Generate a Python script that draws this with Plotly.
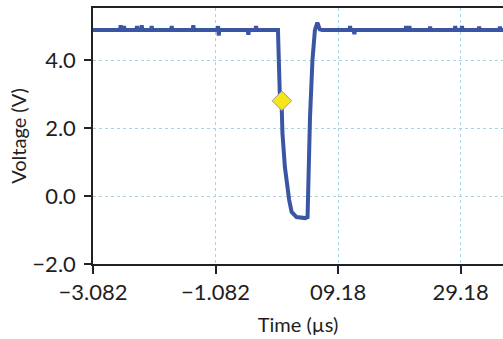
import plotly.graph_objects as go

# Trace samples (time in µs, voltage in V)
time_us = [
    -30.82, -26.4, -26.3, -26.2, -25.86, -25.76, -25.66, -23.74, -23.64, -23.54,
    -22.97, -22.87, -22.77, -21.34, -21.24, -21.14, -18.07, -17.97, -17.87,
    -14.55, -14.45, -14.35, -10.5, -10.4, -10.3, -10.2, -5.56, -5.46, -5.36,
    -4.31, -4.21, -4.11, -0.63, -0.45, -0.33, -0.05, 0.1, 0.5, 0.9, 1.2, 1.6,
    2.4, 3.8, 4.2, 4.4, 4.6, 5.0, 5.4, 5.8, 6.2, 6.6, 11.04, 11.14, 11.24,
    11.74, 11.84, 11.94, 20.18, 20.28, 20.38, 20.72, 20.82, 20.92, 24.1, 24.2,
    24.3, 28.2, 28.3, 28.4, 29.3, 29.4, 29.5, 32.1, 32.2, 32.3, 35.5, 35.6,
    35.7, 38.0,
]
voltage_v = [
    4.88, 4.88, 5.02, 4.88, 4.88, 5.0, 4.88, 4.88, 5.0, 4.88,
    4.88, 5.02, 4.88, 4.88, 5.0, 4.88, 4.88, 5.0, 4.88,
    4.88, 5.02, 4.88, 4.88, 5.0, 4.72, 4.88, 4.88, 4.74, 4.88,
    4.88, 5.0, 4.88, 4.88, 4.0, 3.0, 2.8, 1.85, 0.85, 0.26, -0.12, -0.47,
    -0.62, -0.65, -0.62, 0.85, 2.32, 4.0, 4.88, 5.1, 4.9, 4.88, 4.88, 5.0, 4.88,
    4.88, 4.76, 4.88, 4.88, 5.0, 4.88, 4.88, 5.0, 4.88, 4.88, 4.98,
    4.88, 4.88, 5.0, 4.88, 4.88, 5.0, 4.88, 4.88, 4.98, 4.88, 4.88, 4.98,
    4.88, 4.88,
]

# Trigger marker
marker_time = [0.0]
marker_voltage = [2.8]

# Axis ticks
x_tickvals = [-30.82, -10.82, 9.18, 29.18]
x_ticktext = ["\u22123.082", "\u22121.082", "09.18", "29.18"]
y_tickvals = [-2, 0, 2, 4]
y_ticktext = ["\u22122.0", "0.0", "2.0", "4.0"]

font_family = "Lato, 'Liberation Sans', sans-serif"

fig = go.Figure()
fig.add_trace(go.Scatter(
    x=time_us, y=voltage_v, mode="lines",
    line=dict(color="#3b55a5", width=4),
    showlegend=False, hoverinfo="skip",
))
fig.add_trace(go.Scatter(
    x=marker_time, y=marker_voltage, mode="markers",
    marker=dict(symbol="diamond", size=15, color="#f7e51c",
                line=dict(color="#9a9a9a", width=1)),
    showlegend=False,
))

fig.update_layout(
    width=503, height=339,
    margin=dict(l=93, r=0, t=8, b=75, autoexpand=False),
    paper_bgcolor="white", plot_bgcolor="white",
    font=dict(family=font_family, color="#1e1e1e"),
    xaxis=dict(
        range=[-30.82, 36.1],
        tickvals=x_tickvals, ticktext=x_ticktext,
        showline=True, linecolor="#222222", linewidth=1.5, mirror=True,
        ticks="outside", ticklen=8, tickwidth=1.5, tickcolor="#222222",
        showgrid=True, gridcolor="#a9d3e3", griddash="dot", gridwidth=1,
        zeroline=False, automargin=False,
        tickfont=dict(size=22),
        title=dict(text="Time (µs)", font=dict(size=20), standoff=14),
    ),
    yaxis=dict(
        range=[-2, 5.53],
        tickvals=y_tickvals, ticktext=y_ticktext,
        showline=True, linecolor="#222222", linewidth=1.5,
        ticks="outside", ticklen=7, tickwidth=1.5, tickcolor="#222222",
        showgrid=True, gridcolor="#a9d3e3", griddash="dot", gridwidth=1,
        zeroline=False, automargin=False, ticklabelstandoff=4,
        tickfont=dict(size=22),
        title=dict(text="Voltage (V)", font=dict(size=20), standoff=0),
    ),
)

fig.write_html(
    "out.html",
    config={"displayModeBar": False},
    post_script="document.body.style.margin='0';document.body.style.overflow='hidden';",
)
